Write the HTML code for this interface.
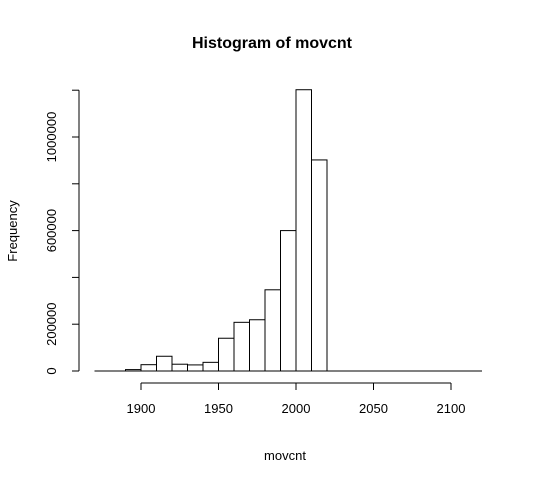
<!DOCTYPE html>
<html><head><meta charset="utf-8"><style>body{margin:0;background:#fff}svg{display:block}text{font-family:"Liberation Sans",sans-serif;fill:#000}</style></head>
<body>
<svg id="c" width="538" height="481">
<text x="272" y="48" text-anchor="middle" font-size="16" font-weight="bold">Histogram of movcnt</text>
<text x="285" y="460" text-anchor="middle" font-size="13">movcnt</text>
<text transform="translate(17,231) rotate(-90)" text-anchor="middle" font-size="13">Frequency</text>
<g id="bars"></g><g id="xa"></g><g id="ya"></g>
</svg>
<script>
const binStarts=[1870,1880,1890,1900,1910,1920,1930,1940,1950,1960,1970,1980,1990,2000,2010,2020,2030,2040,2050,2060,2070,2080,2090,2100,2110];
const counts=[0,0,6000,27000,63000,29000,26000,37000,140000,208000,219000,347000,600000,1202000,902000,0,0,0,0,0,0,0,0,0,0];
const xTicks=[1900,1950,2000,2050,2100];
const yTicks=[0,200000,400000,600000,800000,1000000,1200000];
const yLabels=["0","200000","","600000","","1000000",""];
const binW=10;
const X=v=>141+(v-1900)*1.55;
const Y=v=>371-v*0.000234;
const NS="http://www.w3.org/2000/svg";
function mk(t,a,p){const e=document.createElementNS(NS,t);for(const k in a)e.setAttribute(k,a[k]);p.appendChild(e);return e;}
const bars=document.getElementById('bars');
binStarts.forEach((b,i)=>{
 const x0=X(b),x1=X(b+binW),y=Y(counts[i]);
 const r=mk('rect',{x:x0,y:y,width:x1-x0,height:Math.max(0,371-y),fill:'#fff',stroke:'#000','stroke-width':1},bars);
 
 
});
mk('line',{x1:X(binStarts[0]),x2:X(binStarts[binStarts.length-1]+binW),y1:371,y2:371,stroke:'#000'},bars);
const xa=document.getElementById('xa');


mk('line',{x1:X(xTicks[0]),x2:X(xTicks[xTicks.length-1]),y1:383,y2:383,stroke:'#000'},xa);
xTicks.forEach(t=>{mk('line',{x1:X(t),x2:X(t),y1:383,y2:390,stroke:'#000'},xa);
 const tx=mk('text',{x:X(t),y:413,'text-anchor':'middle','font-size':13},xa);tx.textContent=t;
 
 });
const ya=document.getElementById('ya');


mk('line',{x1:79,x2:79,y1:Y(yTicks[0]),y2:Y(yTicks[yTicks.length-1]),stroke:'#000'},ya);
yTicks.forEach((t,i)=>{mk('line',{x1:72,x2:79,y1:Y(t),y2:Y(t),stroke:'#000'},ya);
 if(yLabels[i]){const tx=mk('text',{transform:`translate(56,${Y(t)}) rotate(-90)`,'text-anchor':'middle','font-size':13},ya);tx.textContent=yLabels[i];
 
 }});
</script>
</body></html>
